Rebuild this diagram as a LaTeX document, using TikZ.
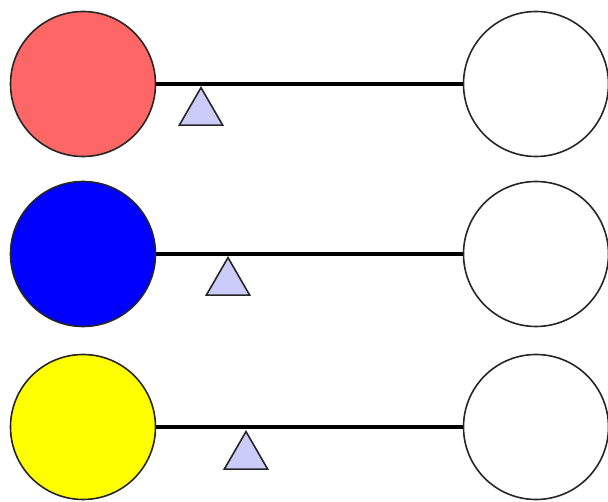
\documentclass[tikz,border=0pt]{standalone}
\usetikzlibrary{shapes.geometric}
\definecolor{ballred}{RGB}{255,102,102}
\definecolor{ballblue}{RGB}{0,0,255}
\definecolor{ballyellow}{RGB}{255,255,0}
\definecolor{fulcrum}{RGB}{204,204,250}
\tikzset{
  ball/.style={circle, draw=black!85, line width=1.6pt, minimum size=145pt, inner sep=0pt},
  beam/.style={line width=3.6pt, black},
  pivot/.style={regular polygon, regular polygon sides=3, draw=black!85, line width=1.6pt, fill=fulcrum, minimum size=50pt, inner sep=0pt, anchor=corner 1}
}
\begin{document}
\begin{tikzpicture}[x=1pt,y=-1pt]
\useasboundingbox (0,0) rectangle (608,502);
% row 1
\node[ball, fill=ballred] (l1) at (83,84) {};
\node[ball, fill=white] (r1) at (536,84) {};
\draw[beam] (l1.east) -- (r1.west);
\node[pivot] (p1) at (201,86) {};
% row 2
\node[ball, fill=ballblue] (l2) at (83,254) {};
\node[ball, fill=white] (r2) at (536,254) {};
\draw[beam] (l2.east) -- (r2.west);
\node[pivot] (p2) at (228,256) {};
% row 3
\node[ball, fill=ballyellow] (l3) at (83,427) {};
\node[ball, fill=white] (r3) at (536,427) {};
\draw[beam] (l3.east) -- (r3.west);
\node[pivot] (p3) at (246,430) {};
\end{tikzpicture}
\end{document}
